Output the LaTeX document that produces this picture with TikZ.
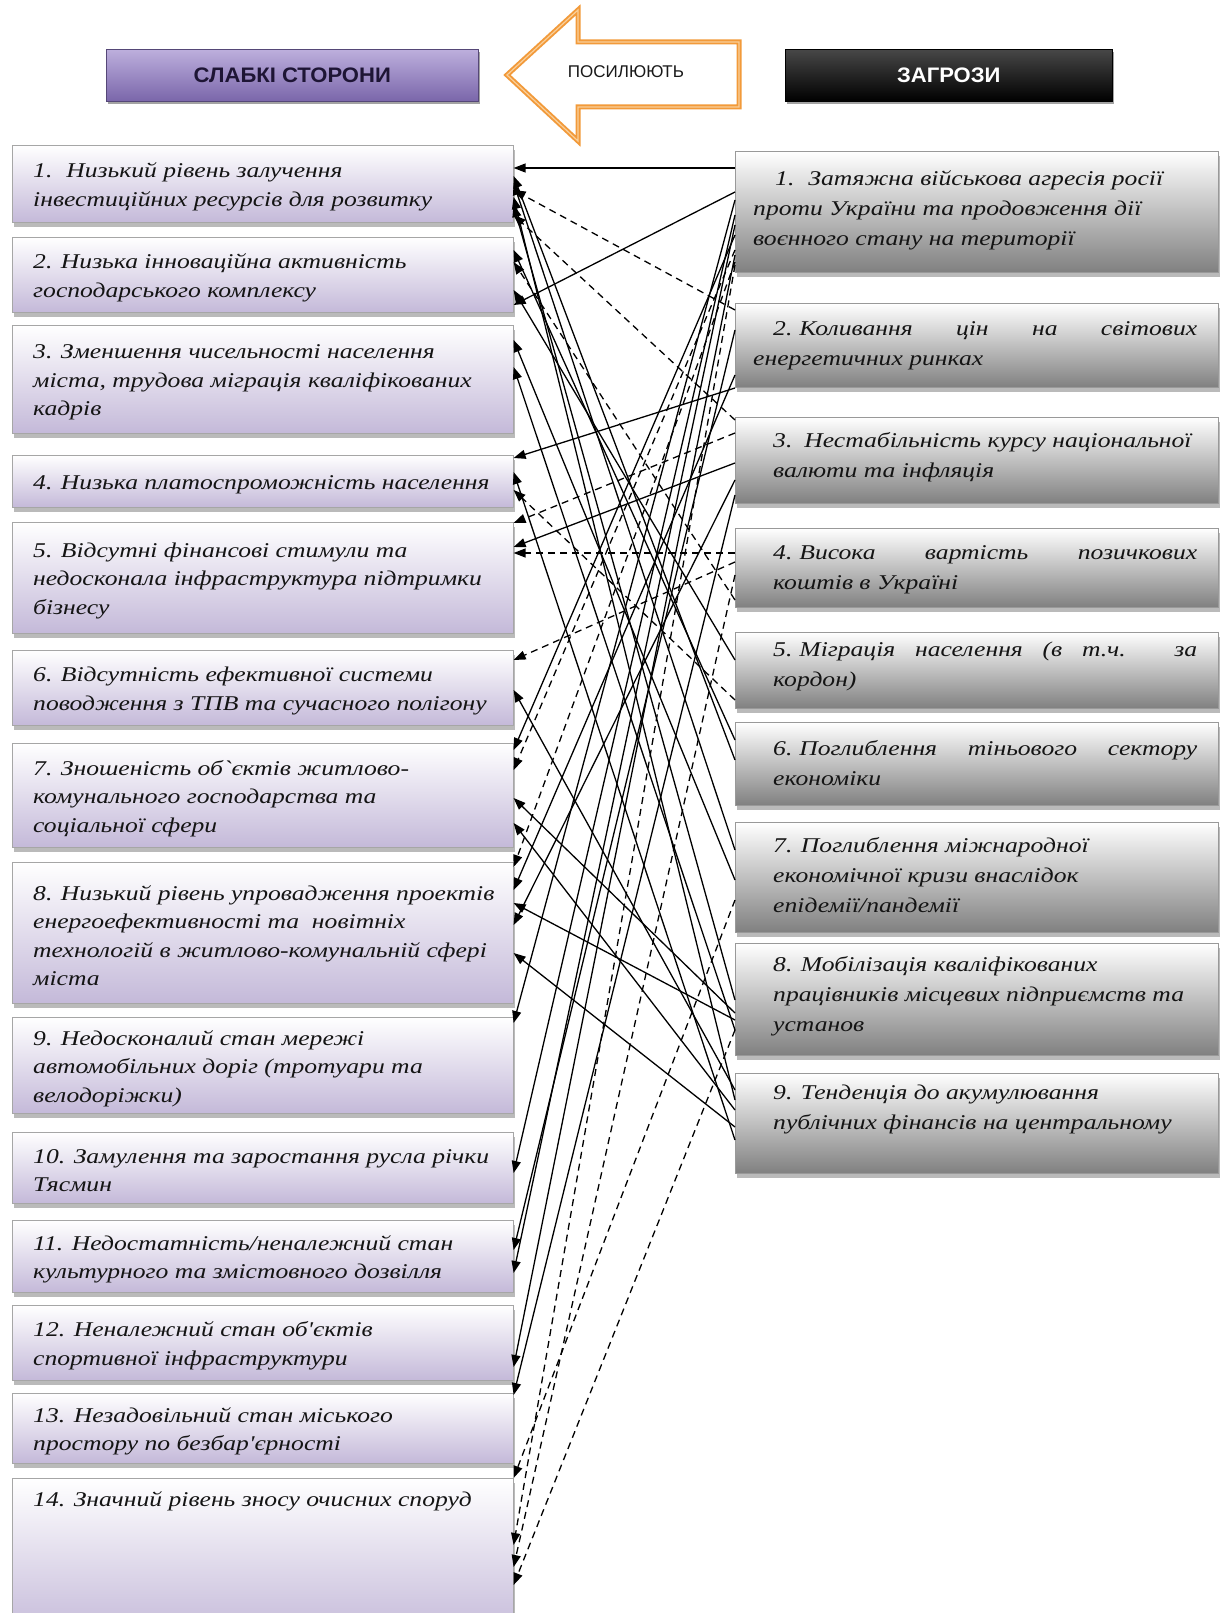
\documentclass[tikz,border=0pt]{standalone}
\usepackage{fontspec}
\usetikzlibrary{arrows.meta,shadows}
\newfontfamily\boxfont{Liberation Serif}[FakeStretch=1.22]
\newfontfamily\hdrfont{Liberation Sans}[FakeStretch=1.05]
\newfontfamily\lblfont{Liberation Sans}[FakeStretch=1.0]
\definecolor{lavbot}{HTML}{C4B9D9}
\definecolor{rgbot}{HTML}{808080}
\definecolor{ptop}{HTML}{BDAFDD}
\definecolor{pmid}{HTML}{A693CF}
\definecolor{pbot}{HTML}{7A66AA}
\definecolor{ptext}{HTML}{1E1535}
\definecolor{arrowor}{HTML}{F29A3A}
\definecolor{arrowlt}{HTML}{F9CF9A}
\tikzset{
 lbox/.style={draw=black!35, line width=0.6pt, top color=white, bottom color=lavbot, anchor=north west, minimum width=501pt, inner sep=0pt, drop shadow={shadow xshift=2pt, shadow yshift=-5pt, fill=black!45, opacity=0.6}},
 rbox/.style={draw=black!40, line width=0.6pt, top color=white, bottom color=rgbot, anchor=north west, minimum width=483pt, inner sep=0pt, drop shadow={shadow xshift=2pt, shadow yshift=-5pt, fill=black!45, opacity=0.6}},
 ltext/.style={anchor=west, align=left, inner sep=0pt, text=black!92, font=\boxfont\itshape\fontsize{21}{28.5}\selectfont},
 rtext/.style={ltext, font=\boxfont\itshape\fontsize{21}{30}\selectfont},
 con/.style={-{Triangle[length=12pt,width=9pt]}, line width=1.3pt, black},
 dcon/.style={con, dash pattern=on 7pt off 5pt},
}
\newcommand\lbx[4]{\node[lbox, minimum height={#3pt-#2pt}] (#1) at (12,#2) {};
  \node[ltext] (#1t) at ([xshift=21pt,yshift=-3pt]#1.west) {#4};}
\newcommand\rbx[6]{\node[rbox, minimum height={#3pt-#2pt}] (#1) at (735,#2) {};
  \node[rtext] (#1t) at ([xshift=#4pt,yshift=-#5pt]#1.west) {#6};}
\newcommand\cs[4]{\draw[con] (#1.west |- 0,#2) -- (#3.east |- 0,#4);}
\newcommand\cd[4]{\draw[dcon] (#1.west |- 0,#2) -- (#3.east |- 0,#4);}
\begin{document}
\begin{tikzpicture}[x=1pt,y=-1pt]
\useasboundingbox (0,0) rectangle (1219,1613);
\fill[white] (0,0) rectangle (1219,1613);

% headers
\node[anchor=north west, minimum width=372pt, minimum height=52pt, inner sep=0pt,
  top color=ptop, middle color=pmid, bottom color=pbot, draw=pbot!70!black, line width=0.6pt,
  drop shadow={shadow xshift=2pt, shadow yshift=-3pt, fill=black!60, opacity=0.6},
  text=ptext, font=\hdrfont\bfseries\fontsize{21}{22}\selectfont] (H1) at (106,49) {СЛАБКІ СТОРОНИ};
\node[anchor=north west, minimum width=327pt, minimum height=52pt, inner sep=0pt,
  top color=black!72, middle color=black, bottom color=black, draw=black, line width=0.6pt,
  drop shadow={shadow xshift=2pt, shadow yshift=-3pt, fill=black!60, opacity=0.6},
  text=white, font=\hdrfont\bfseries\fontsize{21}{22}\selectfont] (H2) at (785,49) {ЗАГРОЗИ};

% arrow
\draw[arrowor, line width=5pt, line join=miter, fill=white] (739,42) -- (578,42) -- (578,10) -- (507,75) -- (578,141) -- (578,107) -- (739,107) -- cycle;
\draw[arrowlt, line width=1.2pt, line join=miter] (739,42) -- (578,42) -- (578,10) -- (507,75) -- (578,141) -- (578,107) -- (739,107) -- cycle;
\node[font=\lblfont\fontsize{17}{18}\selectfont, text=black!90, inner sep=0pt] (lbl) at (626,72) {ПОСИЛЮЮТЬ};

% left boxes
\lbx{L1}{145}{222}{1.\hspace{14pt}Низький рівень залучення\\інвестиційних ресурсів для розвитку}
\lbx{L2}{237}{312}{2. Низька інноваційна активність\\господарського комплексу}
\lbx{L3}{325}{433}{3. Зменшення чисельності населення\\міста, трудова міграція кваліфікованих\\кадрів}
\lbx{L4}{455}{507}{4. Низька платоспроможність населення}
\lbx{L5}{522}{633}{5. Відсутні фінансові стимули та\\недосконала інфраструктура підтримки\\бізнесу}
\lbx{L6}{650}{725}{6. Відсутність ефективної системи\\поводження з ТПВ та сучасного полігону}
\lbx{L7}{743}{847}{7. Зношеність об`єктів житлово-\\комунального господарства та\\соціальної сфери}
\lbx{L8}{862}{1003}{8. Низький рівень упровадження проектів\\енергоефективності та\ \ новітніх\\технологій в житлово-комунальній сфері\\міста}
\lbx{L9}{1017}{1113}{9. Недосконалий стан мережі\\автомобільних доріг (тротуари та\\велодоріжки)}
\lbx{L10}{1132}{1203}{10. Замулення та заростання русла річки\\Тясмин}
\lbx{L11}{1220}{1292}{11. Недостатність/неналежний стан\\культурного та змістовного дозвілля}
\lbx{L12}{1305}{1380}{12. Неналежний стан об'єктів\\спортивної інфраструктури}
\lbx{L13}{1393}{1463}{13. Незадовільний стан міського\\простору по безбар'єрності}
\node[lbox, minimum height=160pt] (L14) at (12,1478) {};
\node[ltext] (L14t) at ([xshift=21pt,yshift=-23pt]L14.north west) {14. Значний рівень зносу очисних споруд};

% right boxes
\rbx{R1}{151}{272}{18}{-2}{\hspace*{22pt}1.\hspace{14pt}Затяжна військова агресія росії\\проти України та продовження дії\\воєнного стану на території}
\rbx{R2}{303}{387}{18}{0}{\hspace*{20pt}\makebox[424pt][s]{2.\hspace{7pt}Коливання цін на світових}\\енергетичних ринках}
\rbx{R3}{417}{503}{38}{-3}{3.\hspace{12pt}Нестабільність курсу національної\\валюти та інфляція}
\rbx{R4}{528}{607}{38}{2}{\makebox[424pt][s]{4.\hspace{7pt}Висока вартість позичкових}\\коштів в Україні}
\rbx{R5}{632}{708}{38}{-4}{\makebox[424pt][s]{5.\hspace{7pt}Міграція населення (в т.ч. за}\\кордон)}
\rbx{R6}{722}{805}{38}{-1}{\makebox[424pt][s]{6.\hspace{7pt}Поглиблення тіньового сектору}\\економіки}
\rbx{R7}{822}{932}{38}{-2}{7. Поглиблення міжнародної\\економічної кризи внаслідок\\епідемії/пандемії}
\rbx{R8}{943}{1055}{38}{-3}{\fontsize{21}{36}\selectfont 8. Мобілізація кваліфікованих\\працівників місцевих підприємств та\\установ}
\rbx{R9}{1073}{1173}{38}{-14}{9. Тенденція до акумулювання\\публічних фінансів на центральному}

% connectors
\cs{R1}{168}{L1}{168}
\cd{R2}{310}{L1}{190}
\cd{R3}{420}{L1}{215}
\cs{R6}{760}{L1}{176}
\cs{R7}{850}{L1}{183}
\cs{R8}{1000}{L1}{205}
\cs{R9}{1100}{L1}{197}
\cs{R1}{192}{L2}{305}
\cs{R6}{740}{L2}{250}
\cd{R4}{600}{L2}{262}
\cs{R5}{660}{L2}{290}
\cs{R7}{880}{L3}{340}
\cs{R8}{1030}{L3}{367}
\cs{R2}{388}{L4}{458}
\cs{R9}{1140}{L4}{472}
\cd{R5}{700}{L4}{490}
\cd{R3}{433}{L5}{523}
\cs{R3}{463}{L5}{547}
\cd{R4}{553}{L5}{553}
\cd{R4}{562}{L6}{660}
\cs{R9}{1090}{L6}{690}
\cs{R1}{235}{L7}{750}
\cd{R1}{250}{L7}{770}
\cs{R8}{1013}{L7}{798}
\cs{R9}{1110}{L7}{823}
\cd{R1}{262}{L8}{867}
\cs{R2}{375}{L8}{890}
\cs{R8}{1020}{L8}{903}
\cs{R3}{480}{L8}{925}
\cs{R9}{1127}{L8}{953}
\cs{R1}{200}{L9}{1023}
\cs{R1}{215}{L10}{1173}
\cs{R1}{225}{L11}{1273}
\cs{R2}{330}{L11}{1250}
\cs{R1}{255}{L12}{1367}
\cs{R3}{495}{L12}{1395}
\cd{R7}{900}{L13}{1478}
\cd{R4}{575}{L14}{1567}
\cd{R8}{1030}{L14}{1585}
\cd{R1}{265}{L14}{1545}
\end{tikzpicture}
\end{document}
